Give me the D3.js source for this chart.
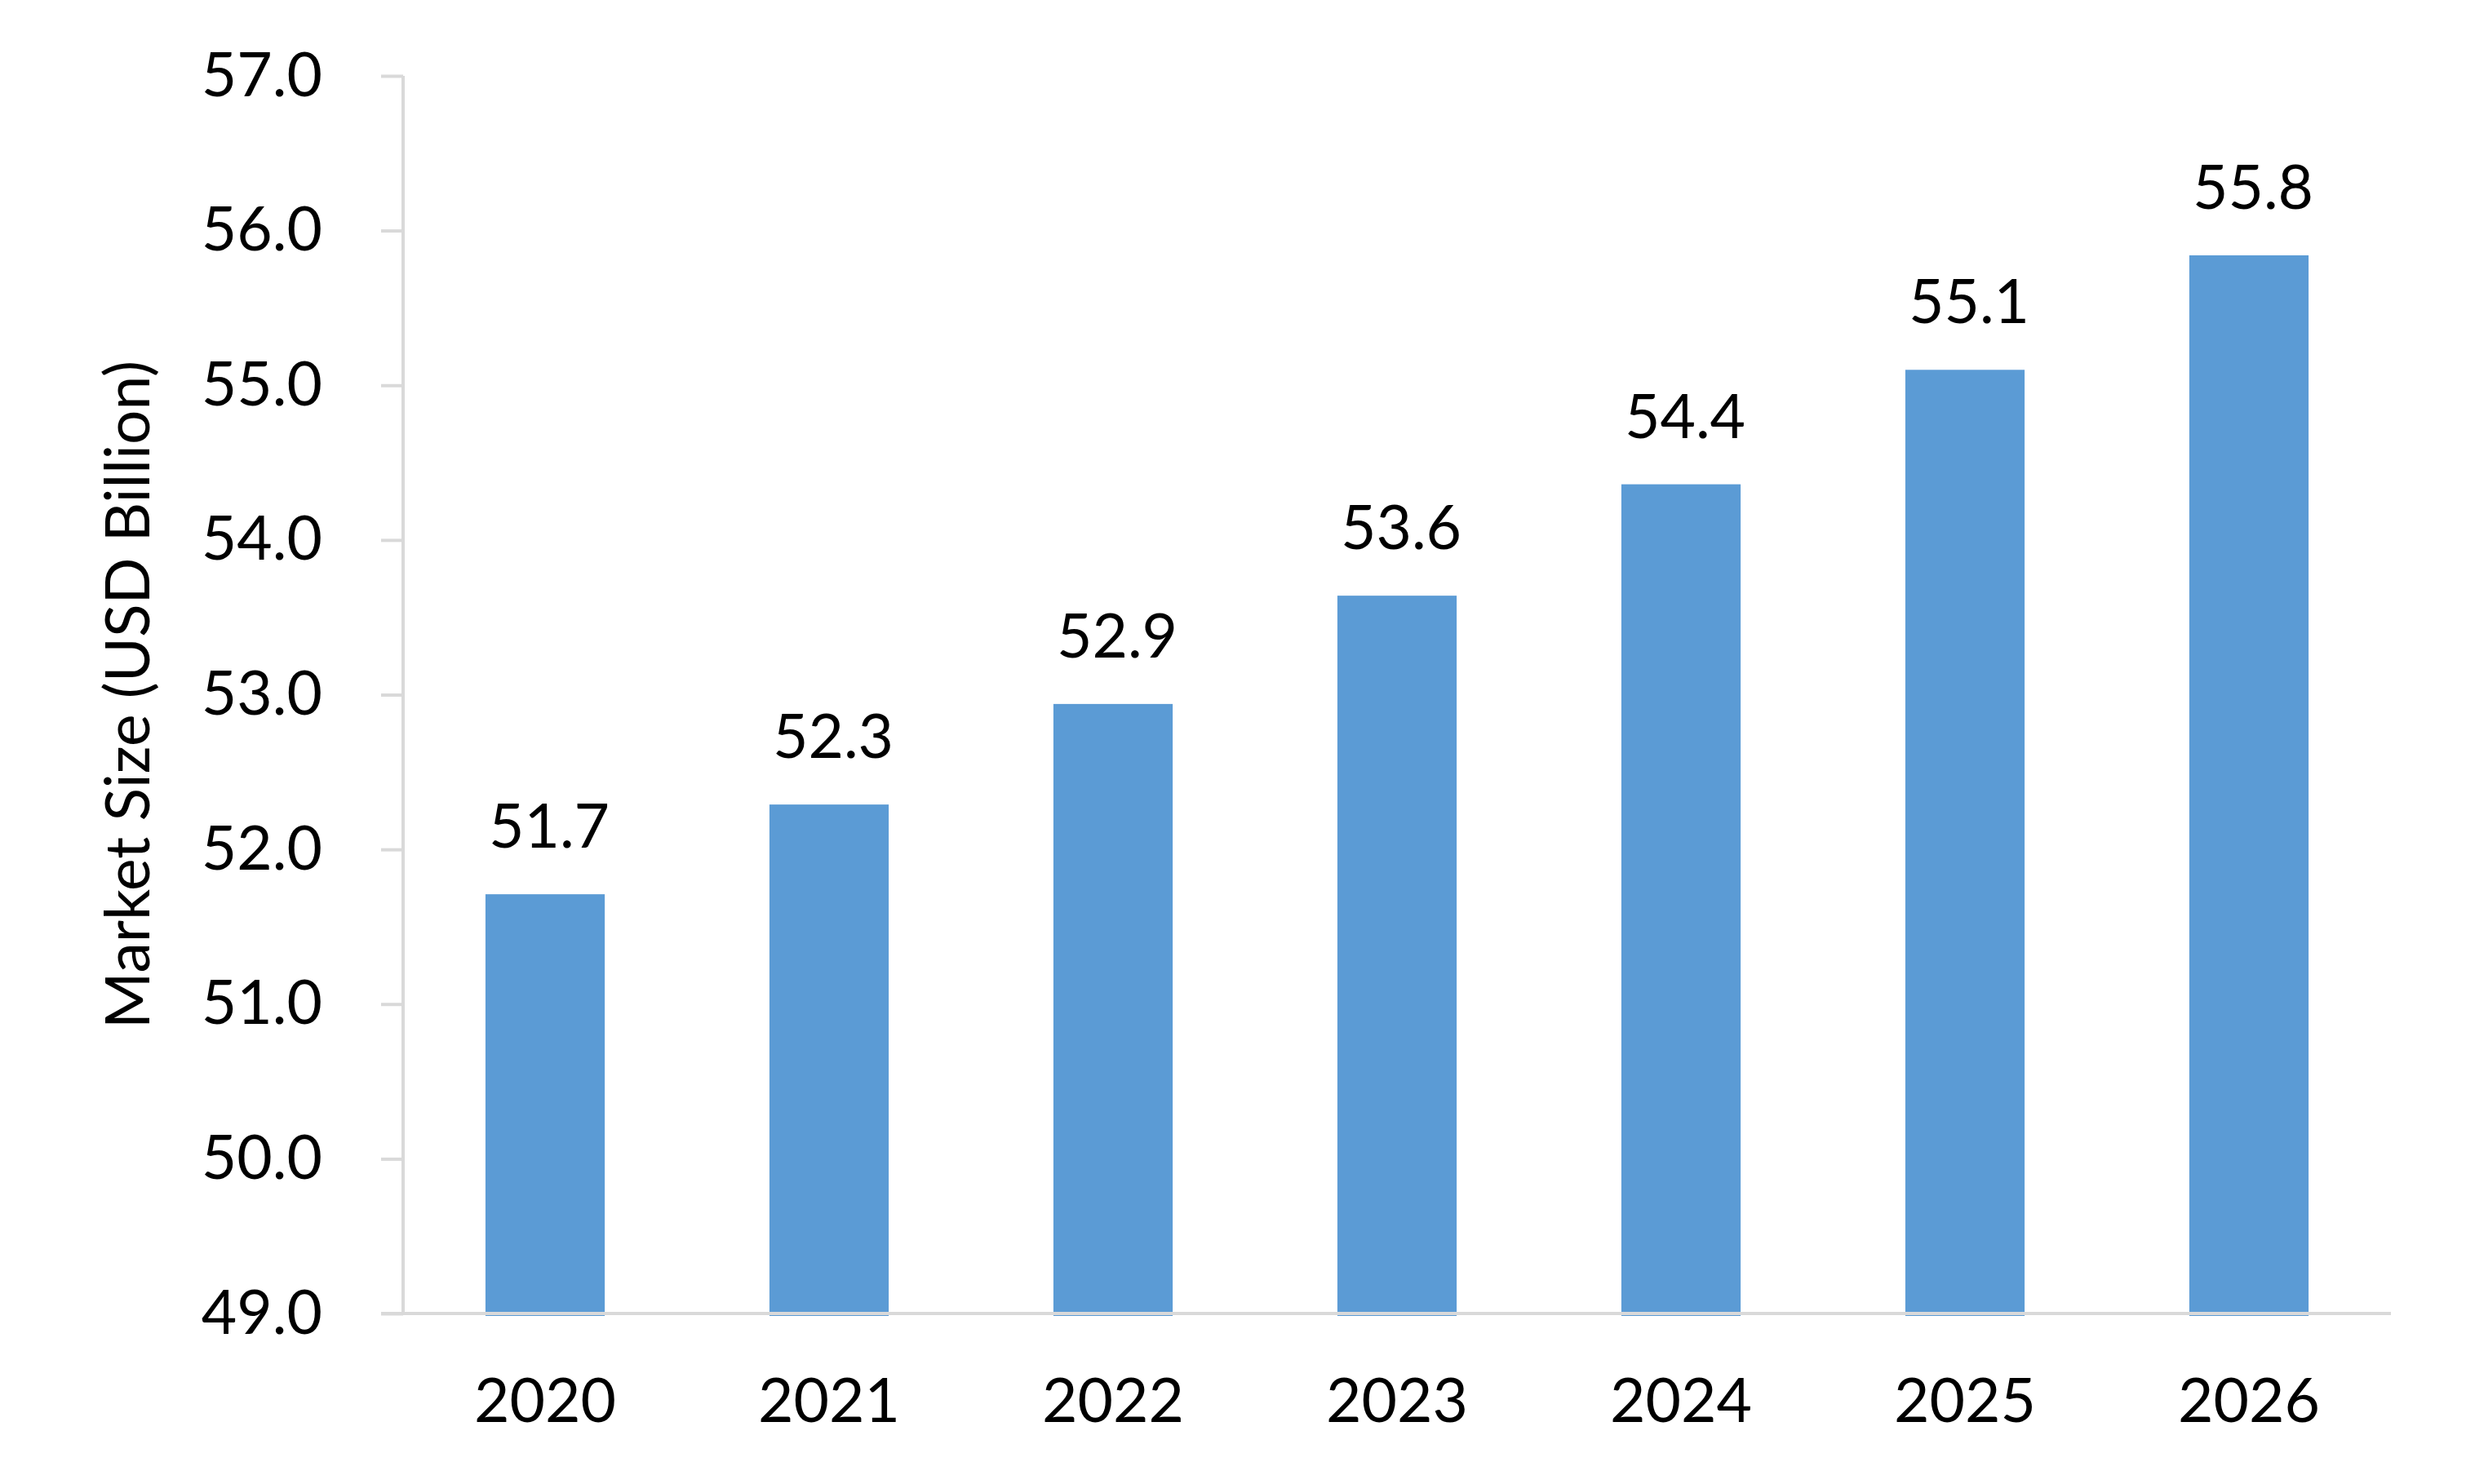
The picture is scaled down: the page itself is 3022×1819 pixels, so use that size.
<!DOCTYPE html>
<html>
<head>
<meta charset="utf-8">
<style>
    body { margin: 0; background: #fff; }
    text { font-family: Lato, "Noto Sans", sans-serif; fill: #000; }
</style>
</head>
<body>
    <div id="chart"></div>
    <script src="https://d3js.org/d3.v7.min.js"></script>
    <script>
        // chart data
        var years = ["2020", "2021", "2022", "2023", "2024", "2025", "2026"];
        var marketSize = [51.71, 52.29, 52.94, 53.64, 54.36, 55.10, 55.84];
        var yTicks = [49, 50, 51, 52, 53, 54, 55, 56, 57];
        var yTitle = "Market Size (USD Billion)";

        var W = 3022, H = 1819;
        var margin = { top: 93, right: 92, bottom: 209, left: 494 };
        var fontSize = 75;

        var svg = d3.select("#chart")
            .append("svg")
            .attr("width", W)
            .attr("height", H);

        var x = d3.scaleBand()
            .domain(years)
            .range([margin.left, W - margin.right])
            .paddingInner(0.58)
            .paddingOuter(0.29);

        var y = d3.scaleLinear()
            .domain([49, 57])
            .range([H - margin.bottom, margin.top]);

        // bars first, axis line drawn over their base
        svg.append("g")
            .selectAll("rect")
            .data(marketSize)
            .enter()
            .append("rect")
            .attr("x", (d, i) => x(years[i]))
            .attr("y", d => y(d))
            .attr("width", x.bandwidth())
            .attr("height", d => y(49) - y(d) + 3)
            .attr("fill", "#5b9bd5");

        // value labels
        svg.append("g")
            .selectAll("text")
            .data(marketSize)
            .enter()
            .append("text")
            .attr("x", (d, i) => x(years[i]) + x.bandwidth() / 2 + 5)
            .attr("y", d => y(d) - 57)
            .attr("text-anchor", "middle")
            .attr("font-size", fontSize)
            .text(d => d.toFixed(1));

        // y axis
        var yAxis = d3.axisLeft(y)
            .tickValues(yTicks)
            .tickFormat(d3.format(".1f"))
            .tickSize(27)
            .tickPadding(72);

        var gy = svg.append("g")
            .attr("transform", "translate(" + margin.left + ",0)")
            .call(yAxis);
        gy.select(".domain").attr("stroke", "#d9d9d9").attr("stroke-width", 4)
            .attr("d", "M0," + margin.top + "V" + (H - margin.bottom));
        gy.selectAll(".tick line").attr("stroke", "#d9d9d9").attr("stroke-width", 4);
        gy.selectAll(".tick text")
            .attr("font-size", fontSize)
            .attr("font-family", "Lato, 'Noto Sans', sans-serif")
            .attr("fill", "#000");

        // x axis
        var xAxis = d3.axisBottom(x).tickSize(0).tickPadding(80);
        var gx = svg.append("g")
            .attr("transform", "translate(0," + (H - margin.bottom) + ")")
            .call(xAxis);
        gx.select(".domain").attr("stroke", "#d9d9d9").attr("stroke-width", 4)
            .attr("d", "M" + (margin.left - 27) + ",0H" + (W - margin.right));
        gx.selectAll(".tick text")
            .attr("font-size", fontSize)
            .attr("font-family", "Lato, 'Noto Sans', sans-serif")
            .attr("fill", "#000");

        // y axis title
        svg.append("text")
            .attr("transform", "translate(183," + ((margin.top + H - margin.bottom) / 2) + ") rotate(-90)")
            .attr("text-anchor", "middle")
            .attr("font-size", fontSize)
            .text(yTitle);
    </script>
</body>
</html>
